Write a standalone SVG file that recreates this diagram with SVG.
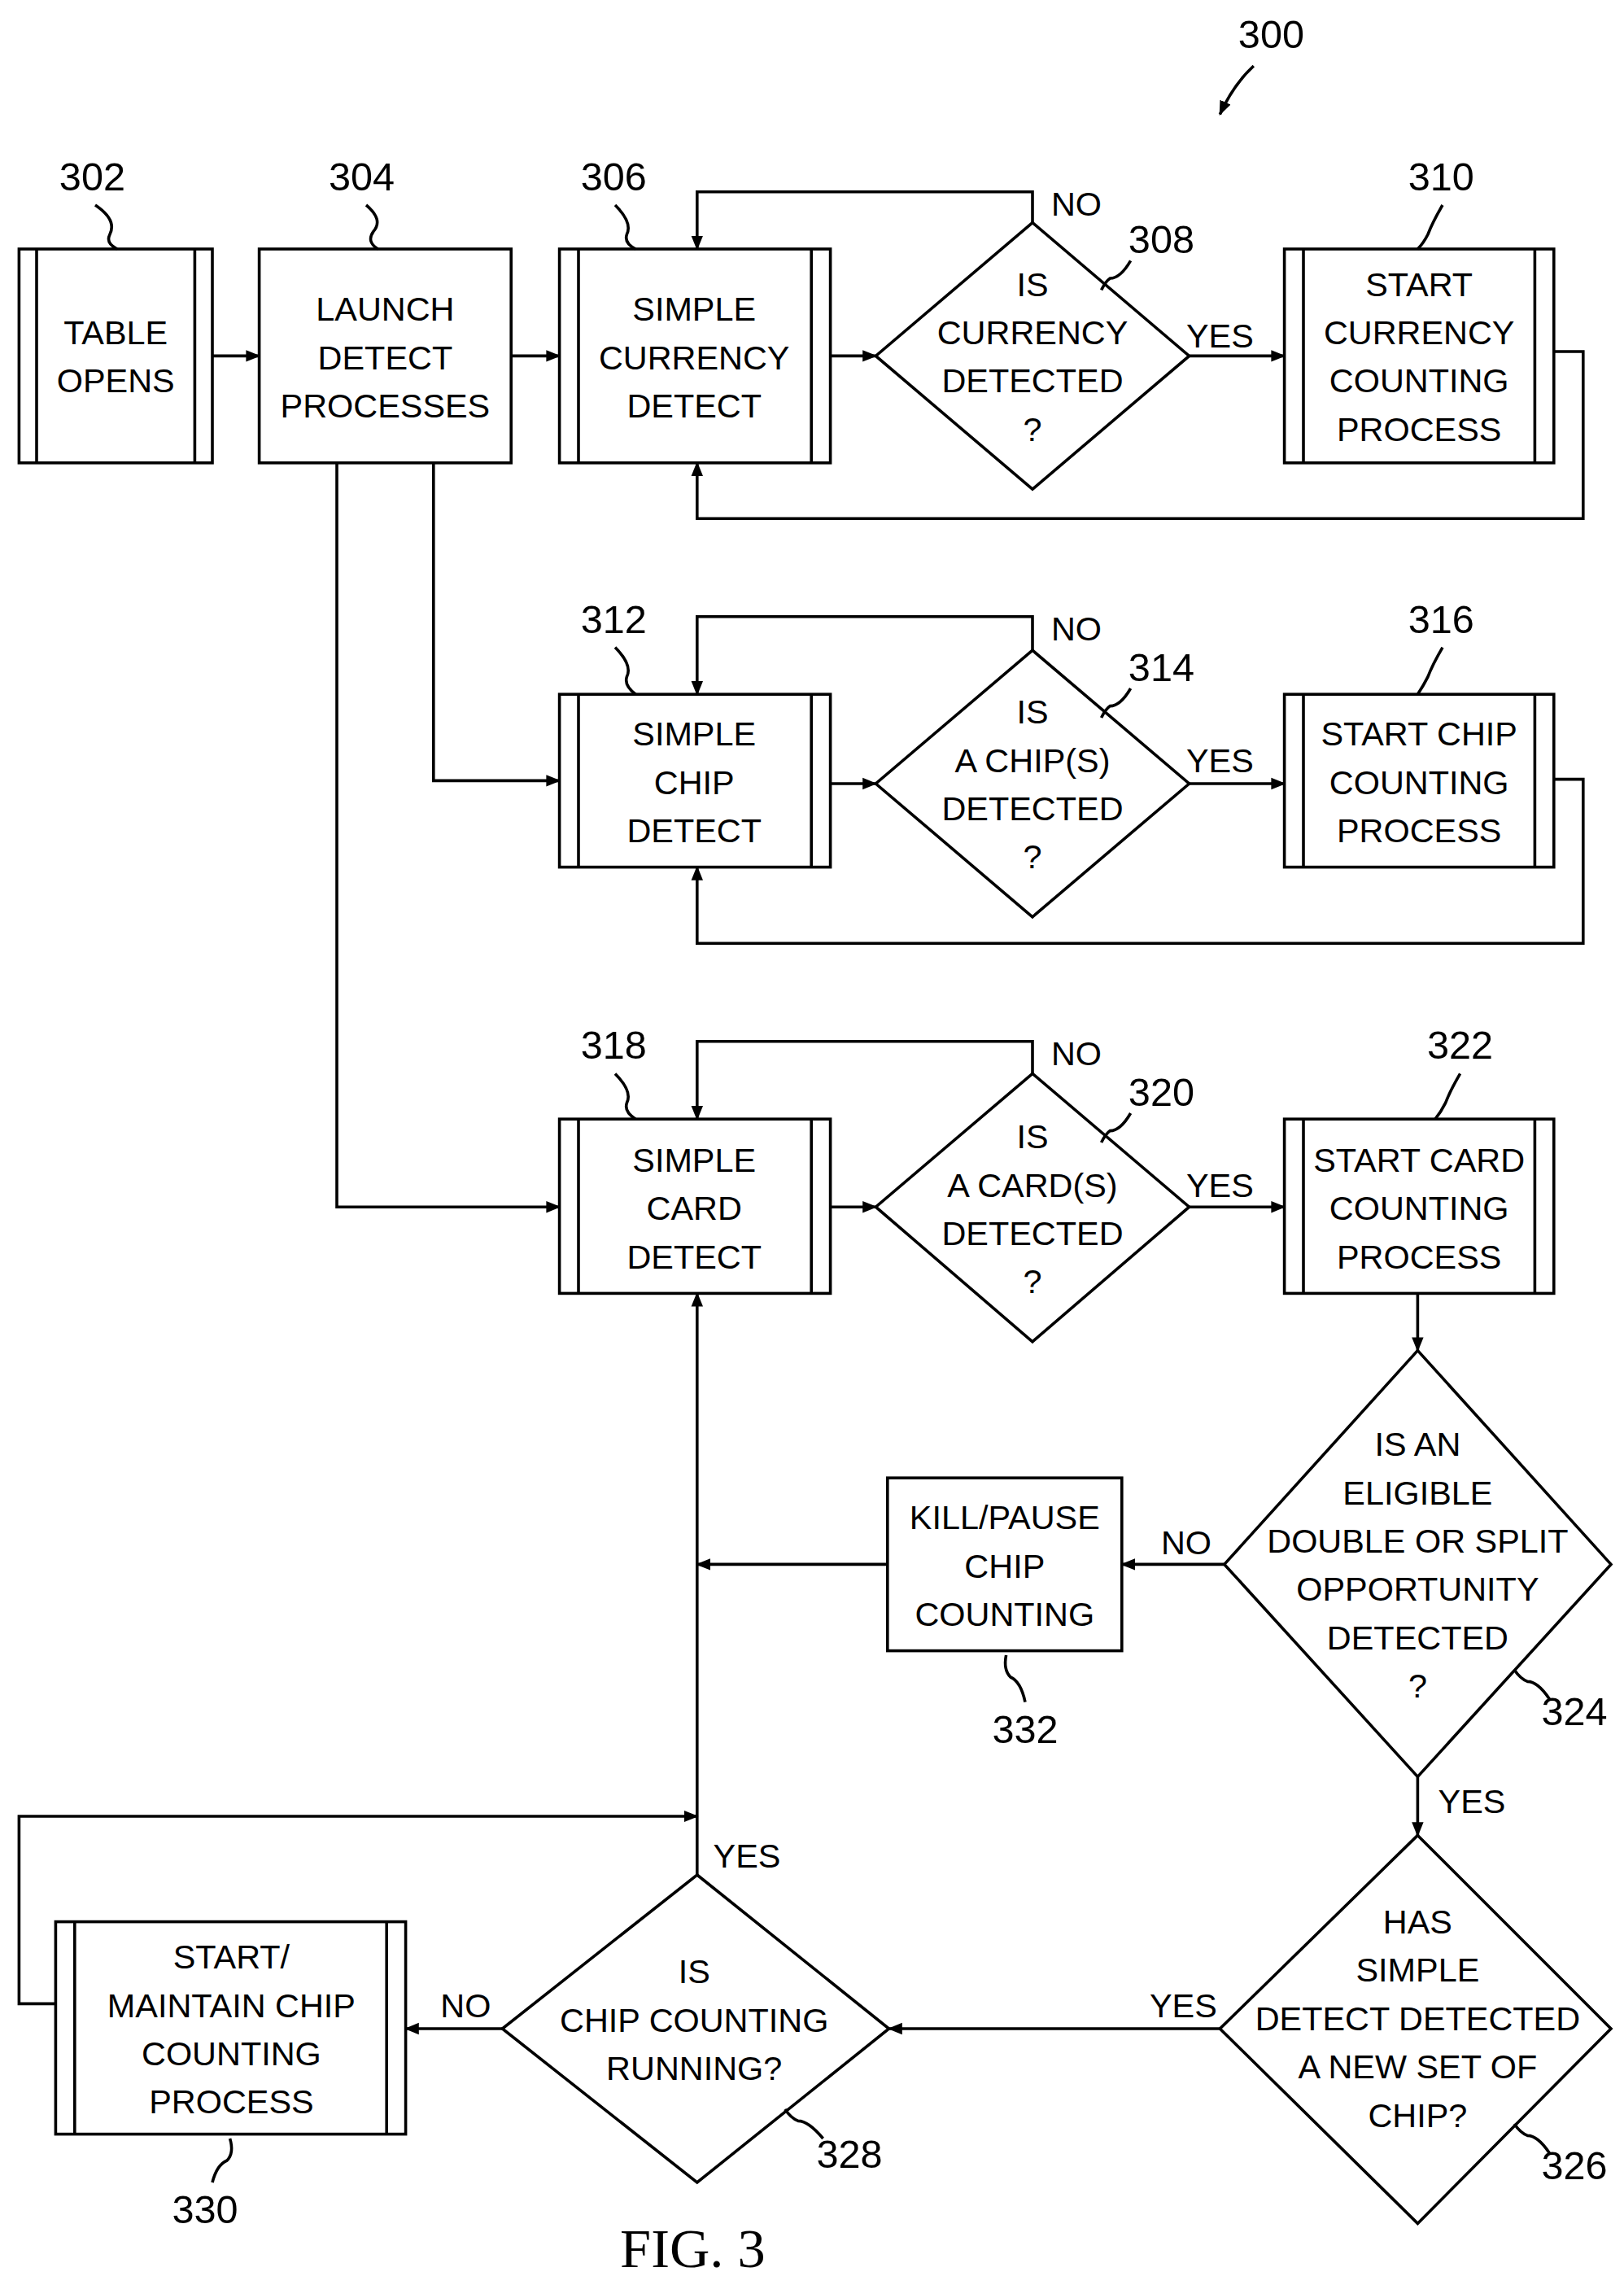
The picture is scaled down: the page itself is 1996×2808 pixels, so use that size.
<svg xmlns="http://www.w3.org/2000/svg" width="1996" height="2808" viewBox="0 0 1996 2808">
<defs>
<marker id="a" markerWidth="10" markerHeight="10" refX="9" refY="5" orient="auto" markerUnits="userSpaceOnUse"><path d="M0,1 L10,5 L0,9 z" fill="#000"/></marker>
<style>
.s{fill:#fff;stroke:#000;stroke-width:2}
.l{fill:none;stroke:#000;stroke-width:2}
.c{fill:none;stroke:#000;stroke-width:2;marker-end:url(#a)}
text{font-family:"Liberation Sans",Arial,sans-serif;font-size:23px;text-anchor:middle}
.n{font-size:27px}
</style>
</defs>
<rect width="1996" height="2808" fill="#fff"/>
<g transform="scale(1.8)">
<g id="connectors">
<line class="c" x1="145" y1="243" x2="177" y2="243"/>
<line class="c" x1="349" y1="243" x2="382" y2="243"/>
<line class="c" x1="567" y1="243" x2="598" y2="243"/>
<line class="c" x1="812" y1="243" x2="877" y2="243"/>
<path class="c" d="M705,152 V131 H476 V170"/>
<path class="c" d="M1061,240 H1081 V354 H476 V316"/>
<path class="c" d="M296,316 V533 H382"/>
<path class="c" d="M230,316 V824 H382"/>
<line class="c" x1="567" y1="535" x2="598" y2="535"/>
<line class="c" x1="812" y1="535" x2="877" y2="535"/>
<path class="c" d="M705,444 V421 H476 V474"/>
<path class="c" d="M1061,532 H1081 V644 H476 V592"/>
<line class="c" x1="567" y1="824" x2="598" y2="824"/>
<line class="c" x1="812" y1="824" x2="877" y2="824"/>
<path class="c" d="M705,733 V711 H476 V764"/>
<line class="c" x1="968" y1="883" x2="968" y2="922"/>
<line class="c" x1="836" y1="1068" x2="766" y2="1068"/>
<line class="c" x1="606" y1="1068" x2="476" y2="1068"/>
<line class="c" x1="476" y1="1280" x2="476" y2="883"/>
<line class="c" x1="968" y1="1213" x2="968" y2="1253"/>
<line class="c" x1="833" y1="1385" x2="607" y2="1385"/>
<line class="c" x1="343" y1="1385" x2="277" y2="1385"/>
<path class="c" d="M38,1368 H13 V1240 H476"/>
<path class="c" d="M856,45 Q842,58 833,78"/>
</g>
<g id="n302"><rect class="s" x="13" y="170" width="132" height="146"/><line class="l" x1="25" y1="170" x2="25" y2="316"/><line class="l" x1="133" y1="170" x2="133" y2="316"/><text x="79" y="235">TABLE</text><text x="79" y="268">OPENS</text></g>
<g id="n304"><rect class="s" x="177" y="170" width="172" height="146"/><text x="263" y="219">LAUNCH</text><text x="263" y="252">DETECT</text><text x="263" y="285">PROCESSES</text></g>
<g id="n306"><rect class="s" x="382" y="170" width="185" height="146"/><line class="l" x1="395" y1="170" x2="395" y2="316"/><line class="l" x1="554" y1="170" x2="554" y2="316"/><text x="474" y="219">SIMPLE</text><text x="474" y="252">CURRENCY</text><text x="474" y="285">DETECT</text></g>
<g id="n308"><path class="s" d="M705,152 L812,243 L705,334 L598,243 z"/><text x="705" y="202">IS</text><text x="705" y="235">CURRENCY</text><text x="705" y="268">DETECTED</text><text x="705" y="301">?</text></g>
<g id="n310"><rect class="s" x="877" y="170" width="184" height="146"/><line class="l" x1="890" y1="170" x2="890" y2="316"/><line class="l" x1="1048" y1="170" x2="1048" y2="316"/><text x="969" y="202">START</text><text x="969" y="235">CURRENCY</text><text x="969" y="268">COUNTING</text><text x="969" y="301">PROCESS</text></g>
<g id="n312"><rect class="s" x="382" y="474" width="185" height="118"/><line class="l" x1="395" y1="474" x2="395" y2="592"/><line class="l" x1="554" y1="474" x2="554" y2="592"/><text x="474" y="509">SIMPLE</text><text x="474" y="542">CHIP</text><text x="474" y="575">DETECT</text></g>
<g id="n314"><path class="s" d="M705,444 L812,535 L705,626 L598,535 z"/><text x="705" y="494">IS</text><text x="705" y="527">A CHIP(S)</text><text x="705" y="560">DETECTED</text><text x="705" y="593">?</text></g>
<g id="n316"><rect class="s" x="877" y="474" width="184" height="118"/><line class="l" x1="890" y1="474" x2="890" y2="592"/><line class="l" x1="1048" y1="474" x2="1048" y2="592"/><text x="969" y="509">START CHIP</text><text x="969" y="542">COUNTING</text><text x="969" y="575">PROCESS</text></g>
<g id="n318"><rect class="s" x="382" y="764" width="185" height="119"/><line class="l" x1="395" y1="764" x2="395" y2="883"/><line class="l" x1="554" y1="764" x2="554" y2="883"/><text x="474" y="800">SIMPLE</text><text x="474" y="833">CARD</text><text x="474" y="866">DETECT</text></g>
<g id="n320"><path class="s" d="M705,733 L812,824 L705,916 L598,824 z"/><text x="705" y="784">IS</text><text x="705" y="817">A CARD(S)</text><text x="705" y="850">DETECTED</text><text x="705" y="883">?</text></g>
<g id="n322"><rect class="s" x="877" y="764" width="184" height="119"/><line class="l" x1="890" y1="764" x2="890" y2="883"/><line class="l" x1="1048" y1="764" x2="1048" y2="883"/><text x="969" y="800">START CARD</text><text x="969" y="833">COUNTING</text><text x="969" y="866">PROCESS</text></g>
<g id="n324"><path class="s" d="M968,922 L1100,1068 L968,1213 L836,1068 z"/><text x="968" y="994">IS AN</text><text x="968" y="1027">ELIGIBLE</text><text x="968" y="1060">DOUBLE OR SPLIT</text><text x="968" y="1093">OPPORTUNITY</text><text x="968" y="1126">DETECTED</text><text x="968" y="1159">?</text></g>
<g id="n332"><rect class="s" x="606" y="1009" width="160" height="118"/><text x="686" y="1044">KILL/PAUSE</text><text x="686" y="1077">CHIP</text><text x="686" y="1110">COUNTING</text></g>
<g id="n326"><path class="s" d="M968,1253 L1100,1385 L968,1518 L833,1385 z"/><text x="968" y="1320">HAS</text><text x="968" y="1353">SIMPLE</text><text x="968" y="1386">DETECT DETECTED</text><text x="968" y="1419">A NEW SET OF</text><text x="968" y="1452">CHIP?</text></g>
<g id="n328"><path class="s" d="M476,1280 L607,1385 L476,1490 L343,1385 z"/><text x="474" y="1354">IS</text><text x="474" y="1387">CHIP COUNTING</text><text x="474" y="1420">RUNNING?</text></g>
<g id="n330"><rect class="s" x="38" y="1312" width="239" height="145"/><line class="l" x1="51" y1="1312" x2="51" y2="1457"/><line class="l" x1="264" y1="1312" x2="264" y2="1457"/><text x="158" y="1344">START/</text><text x="158" y="1377">MAINTAIN CHIP</text><text x="158" y="1410">COUNTING</text><text x="158" y="1443">PROCESS</text></g>
<g id="labels">
<text x="735" y="147">NO</text><text x="833" y="237">YES</text>
<text x="735" y="437">NO</text><text x="833" y="527">YES</text>
<text x="735" y="727">NO</text><text x="833" y="817">YES</text>
<text x="810" y="1061">NO</text><text x="1005" y="1238">YES</text>
<text x="808" y="1377">YES</text><text x="510" y="1275">YES</text><text x="318" y="1377">NO</text>
<text class="n" x="868" y="33">300</text>
<text class="n" x="63" y="130">302</text><text class="n" x="247" y="130">304</text><text class="n" x="419" y="130">306</text><text class="n" x="793" y="173">308</text><text class="n" x="984" y="130">310</text>
<text class="n" x="419" y="432">312</text><text class="n" x="793" y="465">314</text><text class="n" x="984" y="432">316</text>
<text class="n" x="419" y="723">318</text><text class="n" x="793" y="755">320</text><text class="n" x="997" y="723">322</text>
<text class="n" x="1075" y="1178">324</text><text class="n" x="1075" y="1488">326</text><text class="n" x="580" y="1480">328</text><text class="n" x="140" y="1518">330</text><text class="n" x="700" y="1190">332</text>
<text x="473" y="1548" style="font-family:'Liberation Serif',serif;font-size:38px">FIG. 3</text>
<path class="l" d="M65,140 Q80,150 75,160 Q72,166 80,170"/>
<path class="l" d="M250,140 Q262,150 255,158 Q250,165 258,170"/>
<path class="l" d="M420,140 Q432,152 428,160 Q426,166 434,170"/>
<path class="l" d="M772,178 Q765,190 758,190 Q755,192 752,198"/>
<path class="l" d="M985,140 Q978,152 975,160 Q972,166 968,170"/>
<path class="l" d="M420,442 Q432,454 428,462 Q426,468 434,474"/>
<path class="l" d="M772,470 Q765,482 758,482 Q755,484 752,490"/>
<path class="l" d="M985,442 Q978,454 975,462 Q972,468 968,474"/>
<path class="l" d="M420,733 Q432,745 428,753 Q426,759 434,764"/>
<path class="l" d="M772,760 Q765,772 758,772 Q755,774 752,780"/>
<path class="l" d="M997,733 Q990,745 987,753 Q984,759 980,764"/>
<path class="l" d="M1058,1160 Q1050,1148 1043,1148 Q1038,1146 1034,1140"/>
<path class="l" d="M1058,1470 Q1050,1458 1043,1458 Q1038,1456 1034,1450"/>
<path class="l" d="M562,1460 Q552,1448 545,1448 Q540,1446 536,1440"/>
<path class="l" d="M145,1490 Q148,1478 155,1475 Q160,1470 157,1460"/>
<path class="l" d="M700,1162 Q697,1148 690,1145 Q685,1140 687,1130"/>
</g>
</g>
</svg>
